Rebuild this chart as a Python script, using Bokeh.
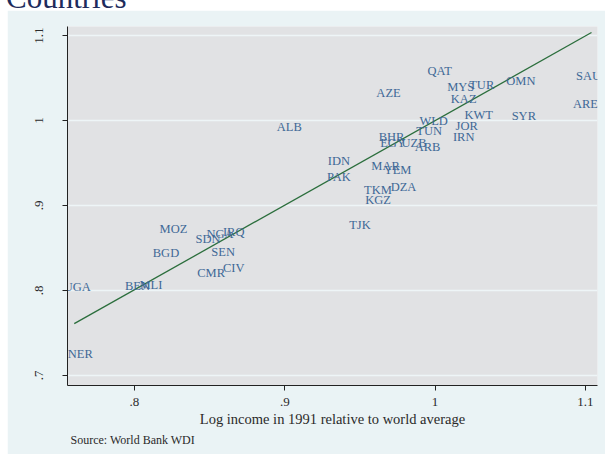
from bokeh.plotting import figure
from bokeh.models import Range1d, FixedTicker, Title, ColumnDataSource, Spacer, Div
from bokeh.layouts import column, row
from bokeh.embed import file_html
from bokeh.resources import INLINE
from bokeh.core.properties import value

# ---- data ----
codes = ["QAT", "MYS", "TUR", "OMN", "SAU", "AZE", "KAZ", "ARE", "KWT", "SYR",
         "WLD", "JOR", "TUN", "BHR", "IRN", "EGY", "UZB", "ARB", "IDN", "MAR",
         "YEM", "PAK", "TKM", "DZA", "KGZ", "TJK", "ALB", "MOZ", "SDN", "NGA",
         "IRQ", "BGD", "SEN", "CMR", "CIV", "UGA", "BEN", "MLI", "NER"]
income_1991 = [1.003, 1.017, 1.031, 1.057, 1.102, 0.969, 1.019, 1.100, 1.029, 1.059,
               0.999, 1.021, 0.996, 0.971, 1.019, 0.972, 0.986, 0.995, 0.936, 0.967,
               0.975, 0.936, 0.962, 0.979, 0.962, 0.950, 0.903, 0.826, 0.849, 0.857,
               0.866, 0.821, 0.859, 0.851, 0.866, 0.762, 0.802, 0.811, 0.764]
outcome = [1.058, 1.040, 1.042, 1.046, 1.052, 1.032, 1.025, 1.020, 1.007, 1.005,
           0.999, 0.993, 0.988, 0.981, 0.980, 0.973, 0.973, 0.969, 0.952, 0.946,
           0.942, 0.933, 0.918, 0.922, 0.906, 0.877, 0.992, 0.872, 0.861, 0.867,
           0.869, 0.844, 0.845, 0.821, 0.826, 0.804, 0.805, 0.807, 0.725]
fit_x = [0.760, 1.104]
fit_y = [0.761, 1.1035]

x_ticks = [0.8, 0.9, 1.0, 1.1]
x_tick_labels = [".8", ".9", "1", "1.1"]
y_ticks = [0.7, 0.8, 0.9, 1.0, 1.1]
y_tick_labels = [".7", ".8", ".9", "1", "1.1"]

title_text = "Countries"
x_title = "Log income in 1991 relative to world average"
note_text = "Source: World Bank WDI"

# ---- styles ----
SERIF = "Liberation Serif"
OUTER_BG = "#EAF3F5"
PLOT_BG = "#E1E2E4"
LABEL_COLOR = "#3E6896"
FIT_COLOR = "#2B6E3C"
GRID_COLOR = "#EEF5F7"
TEXT_COLOR = "#2A2A2A"

# top band with the (partly cut) title, as in the reference crop
top = Div(text=('<div style="position:relative;top:-18px;left:6px;white-space:nowrap;'
                "font-family:'Liberation Serif';font-size:31px;line-height:31px;"
                'color:#1E2B5C;">' + title_text + '</div>'),
          width=605, height=10, margin=(0, 0, 0, 0),
          styles={"overflow": "hidden", "background-color": "white"})

p = figure(width=598, height=444,
           x_range=Range1d(0.7555, 1.108), y_range=Range1d(0.6882, 1.1106),
           output_backend="svg", toolbar_location=None,
           min_border_left=60, min_border_right=8, min_border_top=16, min_border_bottom=69)
p.background_fill_color = PLOT_BG
p.border_fill_color = OUTER_BG
p.outline_line_color = None

p.xgrid.visible = False
p.ygrid.grid_line_color = GRID_COLOR
p.ygrid.grid_line_width = 1.5
p.xaxis.ticker = FixedTicker(ticks=x_ticks)
p.yaxis.ticker = FixedTicker(ticks=y_ticks)
p.xaxis.major_label_overrides = dict(zip(x_ticks, x_tick_labels))
p.yaxis.major_label_overrides = dict(zip(y_ticks, y_tick_labels))
p.yaxis.major_label_orientation = "vertical"

for ax in (p.xaxis, p.yaxis):
    ax.axis_line_color = "#222222"
    ax.axis_line_width = 1
    ax.major_tick_line_color = "#222222"
    ax.major_tick_out = 5
    ax.major_tick_in = 0
    ax.minor_tick_line_color = None
    ax.major_label_text_font = SERIF
    ax.major_label_text_font_size = "13px"
    ax.major_label_text_color = TEXT_COLOR
p.xaxis.major_label_standoff = 7
p.yaxis.major_label_standoff = 19

p.xaxis.axis_label = x_title
p.xaxis.axis_label_text_font = SERIF
p.xaxis.axis_label_text_font_size = "14.5px"
p.xaxis.axis_label_text_font_style = "normal"
p.xaxis.axis_label_text_color = TEXT_COLOR
p.xaxis.axis_label_standoff = 2

src = ColumnDataSource(dict(x=income_1991, y=outcome, code=codes))
p.line(fit_x, fit_y, line_color=FIT_COLOR, line_width=1.3)
p.text(x="x", y="y", text="code", source=src, text_font=value(SERIF),
       text_font_size="12.5px", text_color=LABEL_COLOR,
       text_align="center", text_baseline="middle")

p.add_layout(Title(text=note_text, align="left", offset=3, standoff=3,
                   text_font=SERIF, text_font_size="12px", text_font_style="normal",
                   text_color=TEXT_COLOR), "below")

layout = column(top, row(Spacer(width=7, height=444), p, spacing=0), spacing=0)
open("out.html", "w").write(file_html(layout, INLINE))
